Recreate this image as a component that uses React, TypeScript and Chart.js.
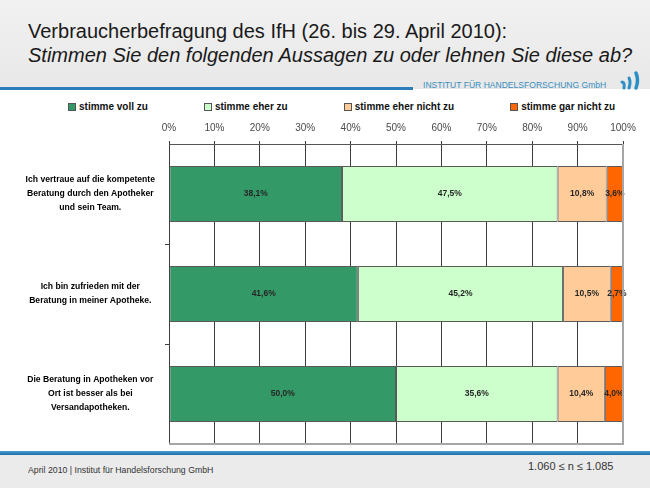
import React, { useEffect, useRef } from "react";
import { Chart, registerables } from "chart.js";

Chart.register(...registerables);

const categories: string[][] = [
  ["Ich vertraue auf die kompetente", "Beratung durch den Apotheker", "und sein Team."],
  ["Ich bin zufrieden mit der", "Beratung in meiner Apotheke."],
  ["Die Beratung in Apotheken vor", "Ort ist besser als bei", "Versandapotheken."],
];
const seriesNames = ["stimme voll zu", "stimme eher zu", "stimme eher nicht zu", "stimme gar nicht zu"];
const stimmeVollZu = [38.1, 41.6, 50.0];
const stimmeEherZu = [47.5, 45.2, 35.6];
const stimmeEherNichtZu = [10.8, 10.5, 10.4];
const stimmeGarNichtZu = [3.6, 2.7, 4.0];
const seriesColors = ["#339966", "#ccffcc", "#ffcc99", "#ff6600"];

const titleLine1 = "Verbraucherbefragung des IfH (26. bis 29. April 2010):";
const titleLine2 = "Stimmen Sie den folgenden Aussagen zu oder lehnen Sie diese ab?";
const brandText = "INSTITUT FÜR HANDELSFORSCHUNG GmbH";
const footerLeft = "April 2010 | Institut für Handelsforschung GmbH";
const footerRight = "1.060 ≤ n ≤ 1.085";

const SANS = "'Liberation Sans', Arial, sans-serif";

const barLabels = {
  id: "barLabels",
  afterDatasetsDraw(chart: any) {
    const ctx = chart.ctx;
    ctx.save();
    ctx.font = `bold 8.5px ${SANS}`;
    ctx.fillStyle = "#262626";
    ctx.textAlign = "center";
    ctx.textBaseline = "middle";
    chart.data.datasets.forEach((ds: any, i: number) => {
      const meta = chart.getDatasetMeta(i);
      meta.data.forEach((el: any, j: number) => {
        const p = el.getProps(["x", "base", "y"], true);
        const v = ds.data[j] as number;
        ctx.fillText(v.toFixed(1).replace(".", ",") + "%", (p.x + p.base) / 2, p.y);
      });
    });
    ctx.restore();
  },
};

const frame = {
  id: "frame",
  afterDraw(chart: any) {
    const { ctx, chartArea } = chart;
    ctx.save();
    ctx.strokeStyle = "#a6a6a6";
    ctx.lineWidth = 2;
    ctx.beginPath();
    ctx.moveTo(chartArea.right, chartArea.top);
    ctx.lineTo(chartArea.right, chartArea.bottom);
    ctx.lineTo(chartArea.left, chartArea.bottom);
    ctx.stroke();
    ctx.restore();
  },
};

export default function App() {
  const ref = useRef<HTMLCanvasElement | null>(null);

  useEffect(() => {
    if (!ref.current) return;
    const series = [stimmeVollZu, stimmeEherZu, stimmeEherNichtZu, stimmeGarNichtZu];
    const chart = new Chart(ref.current, {
      type: "bar",
      data: {
        labels: categories,
        datasets: series.map((d, i) => ({
          label: seriesNames[i],
          data: d,
          backgroundColor: seriesColors[i],
          borderColor: "#5a5a5a",
          borderWidth: 1,
          borderSkipped: false,
          barPercentage: 0.56,
          categoryPercentage: 1,
        })),
      },
      options: {
        indexAxis: "y",
        responsive: false,
        maintainAspectRatio: false,
        animation: false,
        layout: { padding: { left: 0, right: 27, top: 0, bottom: 11 } },
        plugins: {
          legend: { display: false },
          tooltip: { enabled: false },
        },
        scales: {
          x: {
            position: "top",
            stacked: true,
            min: 0,
            max: 100,
            afterFit: (s: any) => {
              s.height = 49;
              s.paddingLeft = 0;
              s.paddingRight = 0;
            },
            ticks: {
              stepSize: 10,
              padding: 7,
              color: "#4a4a4a",
              font: { family: SANS, size: 10 },
              callback: (v: any) => v + "%",
            },
            grid: { color: "#3c3c3c", lineWidth: 1, tickLength: 3 },
            border: { display: true, color: "#555555", width: 1 },
          },
          y: {
            stacked: true,
            afterFit: (s: any) => {
              s.width = 169;
              s.paddingTop = 0;
              s.paddingBottom = 0;
            },
            ticks: {
              color: "#000000",
              padding: 10,
              crossAlign: "center",
              font: { family: SANS, size: 8.6, weight: "bold", lineHeight: 1.63 },
            },
            grid: {
              drawOnChartArea: false,
              tickLength: 4,
              color: "#404040",
              tickColor: (c: any) => (c.type !== "tick" || c.index === 0 ? "rgba(0,0,0,0)" : "#404040"),
            },
            border: { display: true, color: "#404040", width: 1 },
          },
        },
      },
      plugins: [barLabels, frame],
    });
    return () => chart.destroy();
  }, []);

  return (
    <div
      style={{
        position: "fixed",
        left: 0,
        top: 0,
        width: 650,
        height: 488,
        background: "#ffffff",
        overflow: "hidden",
        fontFamily: SANS,
      }}
    >
      {/* header */}
      <div
        style={{
          position: "absolute",
          left: 0,
          top: 0,
          width: 650,
          height: 89,
          background: "linear-gradient(#f1f1f1, #e8e8e8)",
        }}
      />
      <div style={{ position: "absolute", left: 28, top: 19, fontSize: 20, lineHeight: "24px", color: "#1a1a1a", whiteSpace: "nowrap" }}>
        {titleLine1}
      </div>
      <div style={{ position: "absolute", left: 28, top: 43, fontSize: 20, lineHeight: "24px", color: "#1a1a1a", fontStyle: "italic", whiteSpace: "nowrap" }}>
        {titleLine2}
      </div>
      <div style={{ position: "absolute", left: 0, top: 87, width: 413, height: 3, background: "#2a7db8" }} />
      <div
        style={{
          position: "absolute",
          left: 423,
          top: 79,
          fontSize: 9.5,
          lineHeight: "12px",
          color: "#3a8fbf",
          whiteSpace: "nowrap",
          transform: "scaleX(0.9)",
          transformOrigin: "left center",
        }}
      >
        {brandText}
      </div>
      <svg style={{ position: "absolute", left: 619, top: 70 }} width={24} height={20} viewBox="0 0 24 20">
        <path d="M3 12 Q6 12 5 18" stroke="#2a8fc4" strokeWidth={3} fill="none" strokeLinecap="round" />
        <path d="M10 8 Q12 12 10 18" stroke="#2a8fc4" strokeWidth={3} fill="none" strokeLinecap="round" />
        <path d="M17 3 Q20 10 17 18" stroke="#2a8fc4" strokeWidth={3.5} fill="none" strokeLinecap="round" />
      </svg>

      {/* legend */}
      <div style={{ position: "absolute", left: 68, top: 101, display: "flex", gap: 56, alignItems: "center" }}>
        {seriesNames.map((n, i) => (
          <div key={n} style={{ display: "flex", alignItems: "center" }}>
            <div
              style={{
                width: 6,
                height: 6,
                background: seriesColors[i],
                border: "1px solid #555",
                marginRight: 3,
              }}
            />
            <span style={{ fontWeight: "bold", fontSize: 10, lineHeight: "12px", color: "#111", whiteSpace: "nowrap" }}>{n}</span>
          </div>
        ))}
      </div>

      {/* chart */}
      <div style={{ position: "absolute", left: 0, top: 95, width: 650, height: 360 }}>
        <canvas ref={ref} width={650} height={360} />
      </div>

      {/* footer */}
      <div style={{ position: "absolute", left: 0, top: 451, width: 650, height: 4, background: "linear-gradient(#4a9fd4, #1f6fa8)" }} />
      <div style={{ position: "absolute", left: 0, top: 455, width: 650, height: 33, background: "#ebebeb" }} />
      <div
        style={{
          position: "absolute",
          left: 28,
          top: 464,
          fontSize: 9.5,
          lineHeight: "12px",
          color: "#333",
          whiteSpace: "nowrap",
          transform: "scaleX(0.92)",
          transformOrigin: "left center",
        }}
      >
        {footerLeft}
      </div>
      <div style={{ position: "absolute", left: 528, top: 460, fontSize: 11, lineHeight: "13px", color: "#333", whiteSpace: "nowrap" }}>
        {footerRight}
      </div>
    </div>
  );
}
